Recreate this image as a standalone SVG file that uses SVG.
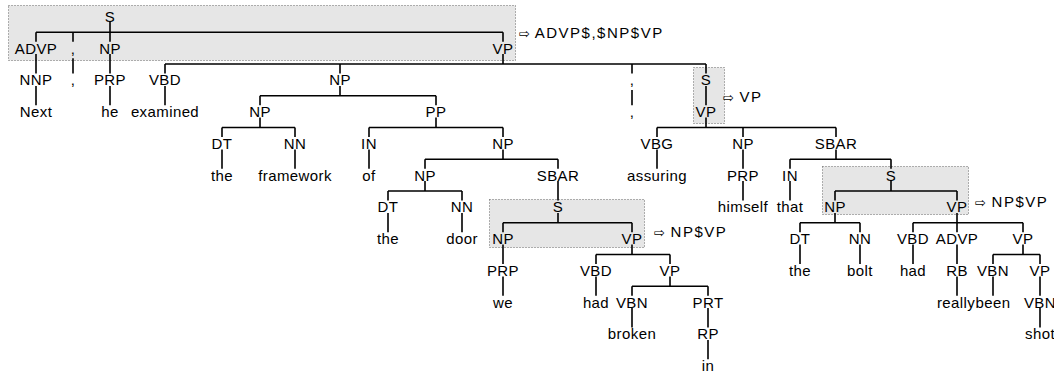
<svg xmlns="http://www.w3.org/2000/svg" width="1054" height="374" viewBox="0 0 1054 374">
<style>
.l{font-family:"Liberation Sans",Arial,sans-serif;font-size:15px;letter-spacing:0.4px;text-anchor:middle;fill:#000}
.n{font-family:"Liberation Sans",Arial,sans-serif;font-size:15px;letter-spacing:1.5px;fill:#000}
.a{font-family:"DejaVu Sans",sans-serif;font-size:13px;letter-spacing:0}
.e{stroke:#000;stroke-width:1.6;fill:none}
.box{fill:#e6e6e6;stroke:#666;stroke-width:1;stroke-dasharray:1 2}
</style>
<rect width="1054" height="374" fill="#fff"/>
<g id="highlights">
<rect class="box" x="8.5" y="5.5" width="507" height="55"/>
<rect class="box" x="693.5" y="67.5" width="31" height="56"/>
<rect class="box" x="489.5" y="199.5" width="155" height="48"/>
<rect class="box" x="822.5" y="166.5" width="146" height="48"/>
</g>
<g id="edges" class="e">
<path d="M110,22V32.25M36,32.25H503M36,32.25V41.75M73,32.25V41.75M110,32.25V41.75M503,32.25V41.75"/>
<path d="M36,54V73.5M36,86V105.25M73,58.25V73.5M110,54V73.5M110,86V105.25"/>
<path d="M503,54V64M165,64H706M165,64V73.5M340,64V73.5M632,64V73.5M706,64V73.5"/>
<path d="M165,86V105.25"/>
<path d="M340,86V95.75M260,95.75H436M260,95.75V105.25M436,95.75V105.25"/>
<path d="M260,117.5V127.5M222,127.5H295M222,127.5V137M295,127.5V137M222,149.5V168.75M295,149.5V168.75"/>
<path d="M436,117.5V127.5M369,127.5H503M369,127.5V137M503,127.5V137M369,149.5V168.75"/>
<path d="M503,149.5V159.25M425,159.25H558M425,159.25V168.75M558,159.25V168.75"/>
<path d="M425,181V191M388,191H462M388,191V200.5M462,191V200.5M388,213V232.25M462,213V232.25"/>
<path d="M558,181V200.5M558,213V222.75M503,222.75H632M503,222.75V232.25M632,222.75V232.25"/>
<path d="M503,244.5V264M503,276.5V295.75"/>
<path d="M632,244.5V254.5M596,254.5H670M596,254.5V264M670,254.5V264M596,276.5V295.75"/>
<path d="M670,276.5V286.25M632,286.25H708M632,286.25V295.75M708,286.25V295.75M632,308V327.5M708,308V327.5M708,340V359.25"/>
<path d="M632,90V105.25M706,86V105.25"/>
<path d="M706,117.5V127.5M657,127.5H836M657,127.5V137M743,127.5V137M836,127.5V137M657,149.5V168.75M743,149.5V168.75M743,181V200.5"/>
<path d="M836,149.5V159.25M790,159.25H891M790,159.25V168.75M891,159.25V168.75M790,181V200.5"/>
<path d="M891,181V191M835,191H957M835,191V200.5M957,191V200.5"/>
<path d="M835,213V222.75M800,222.75H860M800,222.75V232.25M860,222.75V232.25M800,244.5V264M860,244.5V264"/>
<path d="M957,213V222.75M913,222.75H1023M913,222.75V232.25M957,222.75V232.25M1023,222.75V232.25M913,244.5V264M957,244.5V264M957,276.5V295.75"/>
<path d="M1023,244.5V254.5M993,254.5H1040M993,254.5V264M1040,254.5V264M993,276.5V295.75M1040,276.5V295.75M1040,308V327.5"/>
</g>
<g id="n_S0"><text class="l" x="110" y="21.8">S</text></g>
<g id="n_ADVP1"><text class="l" x="36" y="53.55">ADVP</text></g>
<g id="n_comma1"><text class="l" x="73" y="53.55">,</text></g>
<g id="n_NP1"><text class="l" x="110" y="53.55">NP</text></g>
<g id="n_VP1"><text class="l" x="503" y="53.55">VP</text></g>
<g id="n_NNP"><text class="l" x="36" y="85.3">NNP</text></g>
<g id="n_Next"><text class="l" x="36" y="117.05">Next</text></g>
<g id="n_comma1w"><text class="l" x="73" y="85.3">,</text></g>
<g id="n_PRP1"><text class="l" x="110" y="85.3">PRP</text></g>
<g id="n_he"><text class="l" x="110" y="117.05">he</text></g>
<g id="n_VBD1"><text class="l" x="165" y="85.3">VBD</text></g>
<g id="n_examined"><text class="l" x="165" y="117.05">examined</text></g>
<g id="n_NP2"><text class="l" x="340" y="85.3">NP</text></g>
<g id="n_NP3"><text class="l" x="260" y="117.05">NP</text></g>
<g id="n_DT1"><text class="l" x="222" y="148.8">DT</text></g>
<g id="n_the1"><text class="l" x="222" y="180.55">the</text></g>
<g id="n_NN1"><text class="l" x="295" y="148.8">NN</text></g>
<g id="n_framework"><text class="l" x="295" y="180.55">framework</text></g>
<g id="n_PP"><text class="l" x="436" y="117.05">PP</text></g>
<g id="n_IN1"><text class="l" x="369" y="148.8">IN</text></g>
<g id="n_of"><text class="l" x="369" y="180.55">of</text></g>
<g id="n_NP4"><text class="l" x="503" y="148.8">NP</text></g>
<g id="n_NP5"><text class="l" x="425" y="180.55">NP</text></g>
<g id="n_DT2"><text class="l" x="388" y="212.3">DT</text></g>
<g id="n_the2"><text class="l" x="388" y="244.05">the</text></g>
<g id="n_NN2"><text class="l" x="462" y="212.3">NN</text></g>
<g id="n_door"><text class="l" x="462" y="244.05">door</text></g>
<g id="n_SBAR1"><text class="l" x="558" y="180.55">SBAR</text></g>
<g id="n_S2"><text class="l" x="558" y="212.3">S</text></g>
<g id="n_NP6"><text class="l" x="503" y="244.05">NP</text></g>
<g id="n_PRP2"><text class="l" x="503" y="275.8">PRP</text></g>
<g id="n_we"><text class="l" x="503" y="307.55">we</text></g>
<g id="n_VP3"><text class="l" x="632" y="244.05">VP</text></g>
<g id="n_VBD2"><text class="l" x="596" y="275.8">VBD</text></g>
<g id="n_had1"><text class="l" x="596" y="307.55">had</text></g>
<g id="n_VP4"><text class="l" x="670" y="275.8">VP</text></g>
<g id="n_VBN1"><text class="l" x="632" y="307.55">VBN</text></g>
<g id="n_broken"><text class="l" x="632" y="339.3">broken</text></g>
<g id="n_PRT"><text class="l" x="708" y="307.55">PRT</text></g>
<g id="n_RP"><text class="l" x="708" y="339.3">RP</text></g>
<g id="n_in"><text class="l" x="708" y="371.05">in</text></g>
<g id="n_comma2"><text class="l" x="632" y="85.3">,</text></g>
<g id="n_comma2w"><text class="l" x="632" y="117.05">,</text></g>
<g id="n_S1"><text class="l" x="706" y="85.3">S</text></g>
<g id="n_VP2"><text class="l" x="706" y="117.05">VP</text></g>
<g id="n_VBG"><text class="l" x="657" y="148.8">VBG</text></g>
<g id="n_assuring"><text class="l" x="657" y="180.55">assuring</text></g>
<g id="n_NP7"><text class="l" x="743" y="148.8">NP</text></g>
<g id="n_PRP3"><text class="l" x="743" y="180.55">PRP</text></g>
<g id="n_himself"><text class="l" x="743" y="212.3">himself</text></g>
<g id="n_SBAR2"><text class="l" x="836" y="148.8">SBAR</text></g>
<g id="n_IN2"><text class="l" x="790" y="180.55">IN</text></g>
<g id="n_that"><text class="l" x="790" y="212.3">that</text></g>
<g id="n_S3"><text class="l" x="891" y="180.55">S</text></g>
<g id="n_NP8"><text class="l" x="835" y="212.3">NP</text></g>
<g id="n_DT3"><text class="l" x="800" y="244.05">DT</text></g>
<g id="n_the3"><text class="l" x="800" y="275.8">the</text></g>
<g id="n_NN3"><text class="l" x="860" y="244.05">NN</text></g>
<g id="n_bolt"><text class="l" x="860" y="275.8">bolt</text></g>
<g id="n_VP5"><text class="l" x="957" y="212.3">VP</text></g>
<g id="n_VBD3"><text class="l" x="913" y="244.05">VBD</text></g>
<g id="n_had2"><text class="l" x="913" y="275.8">had</text></g>
<g id="n_ADVP2"><text class="l" x="957" y="244.05">ADVP</text></g>
<g id="n_RB"><text class="l" x="957" y="275.8">RB</text></g>
<g id="n_really"><text class="l" x="956" y="307.55">really</text></g>
<g id="n_VP6"><text class="l" x="1023" y="244.05">VP</text></g>
<g id="n_VBN2"><text class="l" x="993" y="275.8">VBN</text></g>
<g id="n_been"><text class="l" x="993" y="307.55">been</text></g>
<g id="n_VP7"><text class="l" x="1040" y="275.8">VP</text></g>
<g id="n_VBN3"><text class="l" x="1040" y="307.55">VBN</text></g>
<g id="n_shot"><text class="l" x="1040" y="339.3">shot</text></g>
<g id="notes">
<text class="n" x="519" y="38"><tspan class="a">⇨</tspan> ADVP$,$NP$VP</text>
<text class="n" x="723" y="102"><tspan class="a">⇨</tspan> VP</text>
<text class="n" x="654" y="237"><tspan class="a">⇨</tspan> NP$VP</text>
<text class="n" x="975" y="207"><tspan class="a">⇨</tspan> NP$VP</text>
</g>
</svg>
